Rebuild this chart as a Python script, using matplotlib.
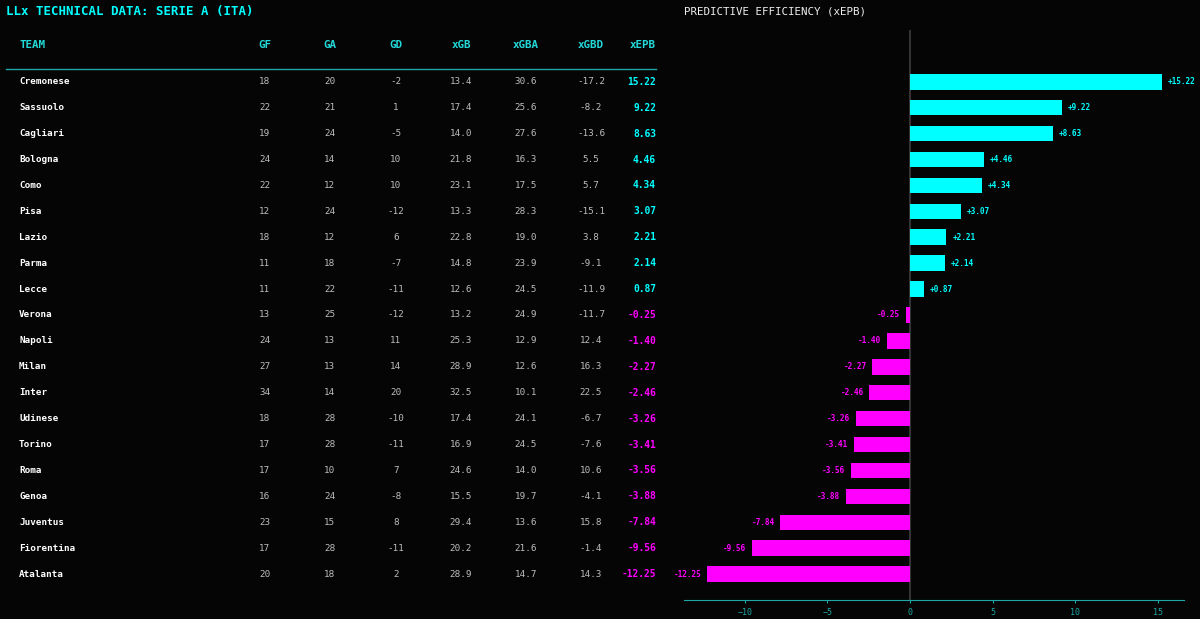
import matplotlib.pyplot as plt
import numpy as np

teams = ['Cremonese', 'Sassuolo', 'Cagliari', 'Bologna', 'Como', 'Pisa', 'Lazio', 'Parma', 'Lecce',
         'Verona', 'Napoli', 'Milan', 'Inter', 'Udinese', 'Torino', 'Roma', 'Genoa', 'Juventus',
         'Fiorentina', 'Atalanta']
gf = [18, 22, 19, 24, 22, 12, 18, 11, 11, 13, 24, 27, 34, 18, 17, 17, 16, 23, 17, 20]
ga = [20, 21, 24, 14, 12, 24, 12, 18, 22, 25, 13, 13, 14, 28, 28, 10, 24, 15, 28, 18]
gd = [-2, 1, -5, 10, 10, -12, 6, -7, -11, -12, 11, 14, 20, -10, -11, 7, -8, 8, -11, 2]
xgb = [13.4, 17.4, 14.0, 21.8, 23.1, 13.3, 22.8, 14.8, 12.6, 13.2, 25.3, 28.9, 32.5, 17.4, 16.9,
       24.6, 15.5, 29.4, 20.2, 28.9]
xgba = [30.6, 25.6, 27.6, 16.3, 17.5, 28.3, 19.0, 23.9, 24.5, 24.9, 12.9, 12.6, 10.1, 24.1, 24.5,
        14.0, 19.7, 13.6, 21.6, 14.7]
xgbd = [-17.2, -8.2, -13.6, 5.5, 5.7, -15.1, 3.8, -9.1, -11.9, -11.7, 12.4, 16.3, 22.5, -6.7, -7.6,
        10.6, -4.1, 15.8, -1.4, 14.3]
xepb = [15.22, 9.22, 8.63, 4.46, 4.34, 3.07, 2.21, 2.14, 0.87, -0.25, -1.40, -2.27, -2.46, -3.26,
        -3.41, -3.56, -3.88, -7.84, -9.56, -12.25]

BG = '#050505'
CYAN = '#00FFFF'
MAGENTA = '#FF00FF'
HEAD = '#22D8D8'
GREY = '#BDBDBD'
MONO = 'DejaVu Sans Mono'

plt.rcParams['font.family'] = MONO

fig = plt.figure(figsize=(12, 6.19), dpi=100, facecolor=BG)
W, H = 1200, 619

ax_b = fig.add_axes([684 / W, 19 / H, 500 / W, 570 / H], facecolor=BG)
ax_t = fig.add_axes([0, 19 / H, 670 / W, 570 / H], facecolor=BG)

n = len(teams)
y = np.arange(n)
vals = np.array(xepb)
cols = [CYAN if v >= 0 else MAGENTA for v in vals]

# bar chart
ax_b.barh(y, vals, height=0.6, color=cols, zorder=2)
ax_b.axvline(0, color='#333333', lw=1.5, zorder=1)
for yi, v, c in zip(y, vals, cols):
    off = 0.35 if v >= 0 else -0.35
    ax_b.text(v + off, yi, f'{v:+.2f}', color=c, fontsize=5.6, fontweight='bold',
              ha='left' if v >= 0 else 'right', va='center')
ax_b.set_xlim(-13.67, 16.58)
ax_b.set_ylim(20, -2)
ax_b.set_yticks([])
for s in ['top', 'right', 'left']:
    ax_b.spines[s].set_visible(False)
ax_b.spines['bottom'].set_color('#1FA5A5')
ax_b.tick_params(axis='x', colors='#1FA5A5', labelsize=6, length=2)
ax_b.set_xticks([-10, -5, 0, 5, 10, 15])
fig.text(684 / W, 1 - 11 / H, 'PREDICTIVE EFFICIENCY (xEPB)', color='#EEEEEE', fontsize=7.8,
         ha='left', va='center')

# table
ax_t.set_xlim(0, 670)
ax_t.set_ylim(20, -2)
ax_t.axis('off')
head_y = -1.43
ax_t.text(19, head_y, 'TEAM', color=HEAD, fontsize=7.8, fontweight='bold', ha='left', va='center')
col_x = [265, 330, 396, 461, 526, 591]
col_names = ['GF', 'GA', 'GD', 'xGB', 'xGBA', 'xGBD']
for cx, nm in zip(col_x, col_names):
    ax_t.text(cx, head_y, nm, color=HEAD, fontsize=7.8, fontweight='bold', ha='center', va='center')
ax_t.text(656, head_y, 'xEPB', color=HEAD, fontsize=7.8, fontweight='bold', ha='right', va='center')
ax_t.plot([6, 656], [-0.5, -0.5], color='#1FA5A5', lw=1)

for i in range(n):
    ax_t.text(19, i, teams[i], color='white', fontsize=6.7, fontweight='bold', ha='left', va='center')
    cells = [str(gf[i]), str(ga[i]), str(gd[i]), f'{xgb[i]:.1f}', f'{xgba[i]:.1f}', f'{xgbd[i]:.1f}']
    for cx, s in zip(col_x, cells):
        ax_t.text(cx, i, s, color=GREY, fontsize=6.7, ha='center', va='center')
    ax_t.text(656, i, f'{xepb[i]:.2f}', color=cols[i], fontsize=6.9, fontweight='bold',
              ha='right', va='center')

fig.text(6 / W, 1 - 12 / H, 'LLx TECHNICAL DATA: SERIE A (ITA)', color=CYAN, fontsize=8.9,
         fontweight='bold', ha='left', va='center')

fig.savefig('out.png', dpi=100, facecolor=BG)
